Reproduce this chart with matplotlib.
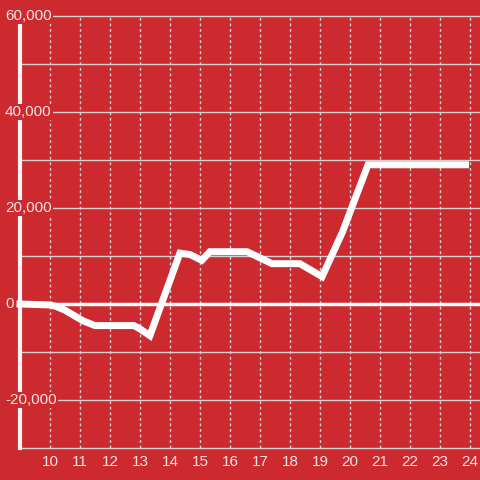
import matplotlib
matplotlib.use("Agg")
import matplotlib.pyplot as plt
import matplotlib.transforms as mtransforms

# ---------- data ----------
hours = [9.0, 10.0, 10.2, 10.5, 10.8, 11.1, 11.5, 12.8, 13.0, 13.33,
         14.33, 14.67, 15.06, 15.33, 16.57, 17.4, 18.33, 19.07,
         19.75, 20.6, 23.85]
values = [0, -200, -500, -1300, -2400, -3500, -4500, -4500, -5200, -6600,
          10600, 10300, 9100, 10900, 10900, 8400, 8400, 5700,
          15000, 29000, 29000]

x_ticks = list(range(10, 25))
y_label_vals = [-20000, 0, 20000, 40000, 60000]
y_grid_vals = list(range(-30000, 60001, 10000))

# ---------- styling ----------
BG = "#cc2a2f"
GRID = "#d2d2d2"
TXT = "#f3e3e3"

plt.rcParams.update({
    "font.family": ["Liberation Sans", "DejaVu Sans"],
    "font.size": 11,
})

fig = plt.figure(figsize=(4.8, 4.8), dpi=100, facecolor=BG)
ax = fig.add_axes([20 / 480, 32 / 480, 460 / 480, 432 / 480], facecolor=BG)

ax.set_xlim(9, 9 + 460 / 30)
ax.set_ylim(-30000, 60000)

# vertical dotted grid
ax.set_xticks(x_ticks)
ax.set_xticklabels([str(t) for t in x_ticks], color=TXT)
ax.tick_params(axis="x", length=0, pad=5)
ax.xaxis.grid(True, color=GRID, linestyle=(0, (2, 2)), linewidth=1)
ax.set_axisbelow(True)

ax.set_yticks([])

# horizontal solid grid
for v in y_grid_vals:
    if v == 0:
        continue
    ax.axhline(v, color=GRID, linewidth=1, zorder=1, clip_on=False)
ax.axhline(0, color="white", linewidth=2.5, zorder=2)

for side in ["top", "right", "bottom"]:
    ax.spines[side].set_visible(False)
ax.spines["left"].set_color("#f5f5f5")
ax.spines["left"].set_linewidth(3)

# y labels drawn inside, with red box hiding the lines behind
trans = mtransforms.blended_transform_factory(fig.transFigure, ax.transData)
for v in y_label_vals:
    ax.text(5 / 480, v, f"{v:,}", transform=trans, ha="left", va="center",
            color=TXT, zorder=5,
            bbox=dict(facecolor=BG, edgecolor="none", pad=1.0))

ax.plot(hours, values, color="white", linewidth=5, zorder=4,
        solid_joinstyle="miter", solid_capstyle="projecting", clip_on=False)

fig.savefig("out.png", dpi=100, facecolor=BG)
